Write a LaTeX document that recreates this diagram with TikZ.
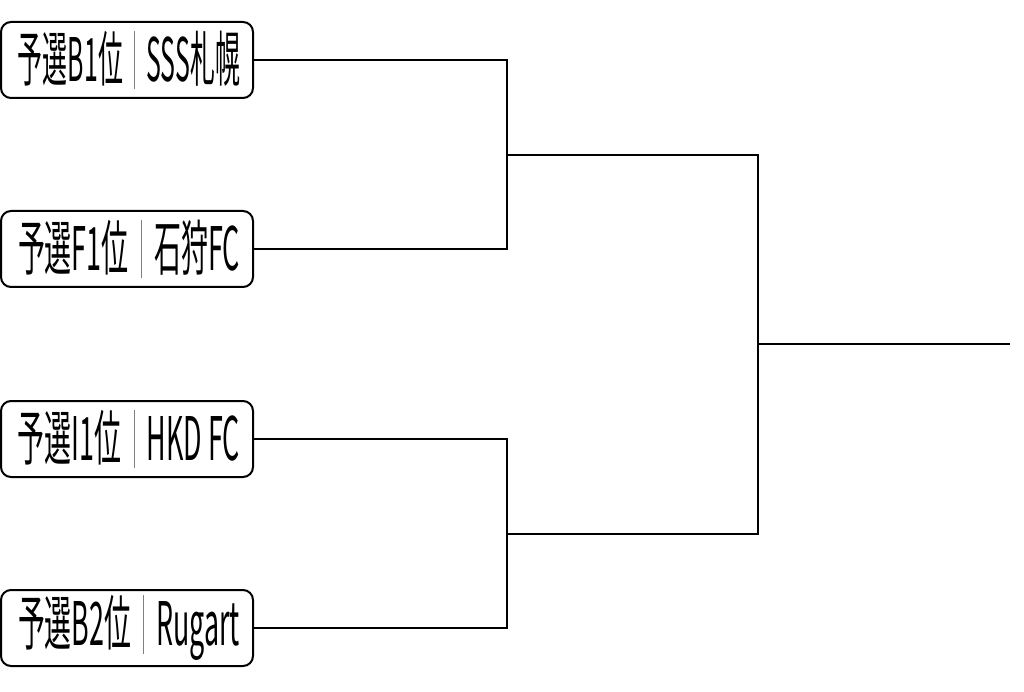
\documentclass[tikz,border=0pt]{standalone}
\usepackage{fontspec}
\usepackage{graphicx}
\newfontfamily\jpfont{Noto Sans CJK JP}
\tikzset{
  team/.style={draw, line width=2pt, rounded corners=10pt, minimum width=252pt,
    minimum height=76pt, inner sep=0pt, font=\jpfont\fontsize{60}{60}\selectfont},
  link/.style={line width=2pt}
}
\newcommand{\teamtext}[2]{\hspace*{4pt}\resizebox{222pt}{\height}{#1\hspace{0.45em}\textcolor{gray}{\rule[-0.14em]{2.5pt}{0.98em}}\hspace{0.45em}#2}}
\begin{document}
\begin{tikzpicture}[x=1pt,y=-1pt]
\useasboundingbox (0,0) rectangle (1024,692);
\node[team] (t1) at (127,60) {\teamtext{予選B1位}{SSS札幌}};
\node[team] (t2) at (127,249) {\teamtext{予選F1位}{石狩FC}};
\node[team] (t3) at (127,439) {\teamtext{予選I1位}{HKD FC}};
\node[team] (t4) at (127,628) {\teamtext{予選B2位}{Rugart}};
\coordinate (j1) at (507,155);
\coordinate (j2) at (507,534);
\coordinate (k) at (758,344);
\coordinate (fin) at (1010,344);
\draw[link] (t1.east) -| (j1) |- (t2.east);
\draw[link] (t3.east) -| (j2) |- (t4.east);
\draw[link] (j1) -| (k) |- (j2);
\draw[link] (k) -- (fin);
\end{tikzpicture}
\end{document}
